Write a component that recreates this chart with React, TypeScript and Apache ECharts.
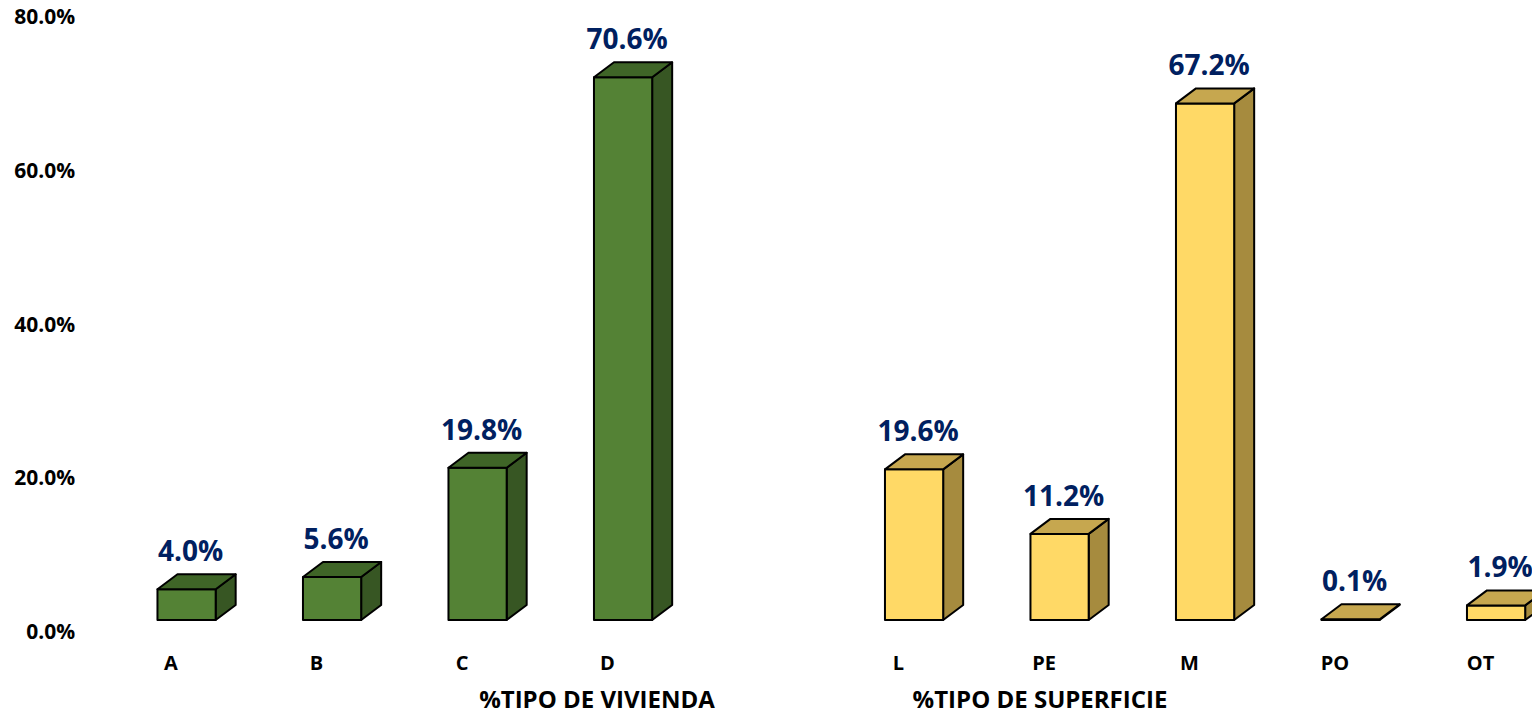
import React, { useEffect, useRef } from "react";
import * as echarts from "echarts";

const categories = ["A", "B", "C", "D", "", "L", "PE", "M", "PO", "OT"];
const viviendaCats = ["A", "B", "C", "D"];
const viviendaValues = [4.0, 5.6, 19.8, 70.6];
const superficieCats = ["L", "PE", "M", "PO", "OT"];
const superficieValues = [19.6, 11.2, 67.2, 0.1, 1.9];
const yTicks = [0, 20, 40, 60, 80];
const groupTitles = ["%TIPO DE VIVIENDA", "%TIPO DE SUPERFICIE"];

const FONT = "'Open Sans', 'Liberation Sans', sans-serif";
const FLOOR_LIFT = 11;

function makeRender(front: string, top: string, side: string) {
  return (params: any, api: any) => {
    const idx = api.value(0);
    const val = api.value(1);
    const base = api.coord([idx, 0]);
    const tp = api.coord([idx, val]);
    const band = api.size([1, 0])[0];
    const w = band * 0.4;
    const cx = base[0] + band * 0.107;
    const x0 = cx - w / 2;
    const x1 = cx + w / 2;
    const yb = base[1] - FLOOR_LIFT;
    const yt = tp[1] - FLOOR_LIFT;
    const dx = 20;
    const dy = 15;
    const stroke = { stroke: "#000", lineWidth: 2, lineJoin: "round" };
    return {
      type: "group",
      children: [
        {
          type: "polygon",
          shape: { points: [[x1, yb], [x1, yt], [x1 + dx, yt - dy], [x1 + dx, yb - dy]] },
          style: { fill: side, ...stroke },
        },
        {
          type: "rect",
          shape: { x: x0, y: yt, width: w, height: Math.max(yb - yt, 0.5) },
          style: { fill: front, ...stroke },
        },
        {
          type: "polygon",
          shape: { points: [[x0, yt], [x1, yt], [x1 + dx, yt - dy], [x0 + dx, yt - dy]] },
          style: { fill: top, ...stroke },
        },
        {
          type: "text",
          x: cx + 4,
          y: yt - 39,
          style: {
            text: val.toFixed(1) + "%",
            align: "center",
            verticalAlign: "middle",
            fontSize: 28,
            fontWeight: "bold",
            fontFamily: FONT,
            fill: "#002060",
          },
        },
      ],
    };
  };
}

export default function App() {
  const ref = useRef<HTMLDivElement>(null);
  useEffect(() => {
    document.body.style.margin = "0";
    const chart = echarts.init(ref.current!, null, { renderer: "svg" });
    const vData = viviendaCats.map((c, i) => [categories.indexOf(c), viviendaValues[i]]);
    const sData = superficieCats.map((c, i) => [categories.indexOf(c), superficieValues[i]]);
    chart.setOption({
      animation: false,
      backgroundColor: "#fff",
      grid: {
        left: 98.25,
        width: 1455,
        top: 16,
        height: 615,
        containLabel: false,
        outerBoundsMode: "none",
      },
      xAxis: {
        type: "category",
        data: categories,
        axisLine: { show: false },
        axisTick: { show: false },
        splitLine: { show: false },
        axisLabel: {
          margin: 21,
          fontSize: 20,
          fontWeight: "bold",
          fontFamily: FONT,
          color: "#000",
          interval: 0,
        },
      },
      yAxis: {
        type: "value",
        min: yTicks[0],
        max: yTicks[yTicks.length - 1],
        interval: 20,
        axisLine: { show: false },
        axisTick: { show: false },
        splitLine: { show: false },
        axisLabel: {
          margin: 23,
          fontSize: 21,
          fontWeight: "bold",
          fontFamily: FONT,
          color: "#000",
          formatter: (v: number) => v.toFixed(1) + "%",
        },
      },
      graphic: [
        {
          type: "text",
          x: 597,
          y: 698,
          style: {
            text: groupTitles[0],
            align: "center",
            verticalAlign: "middle",
            fontSize: 24,
            fontWeight: "bold",
            fontFamily: FONT,
            fill: "#000",
          },
        },
        {
          type: "text",
          x: 1040,
          y: 698,
          style: {
            text: groupTitles[1],
            align: "center",
            verticalAlign: "middle",
            fontSize: 24,
            fontWeight: "bold",
            fontFamily: FONT,
            fill: "#000",
          },
        },
      ],
      series: [
        {
          type: "custom",
          name: "vivienda",
          clip: false,
          renderItem: makeRender("#548235", "#3F6527", "#375623"),
          encode: { x: 0, y: 1 },
          data: vData,
        },
        {
          type: "custom",
          name: "superficie",
          clip: false,
          renderItem: makeRender("#FFD966", "#C6A74F", "#A68B3E"),
          encode: { x: 0, y: 1 },
          data: sData,
        },
      ],
    });
    return () => chart.dispose();
  }, []);
  return (
    <div
      ref={ref}
      style={{ position: "absolute", left: 0, top: 0, width: 1532, height: 713 }}
    />
  );
}
